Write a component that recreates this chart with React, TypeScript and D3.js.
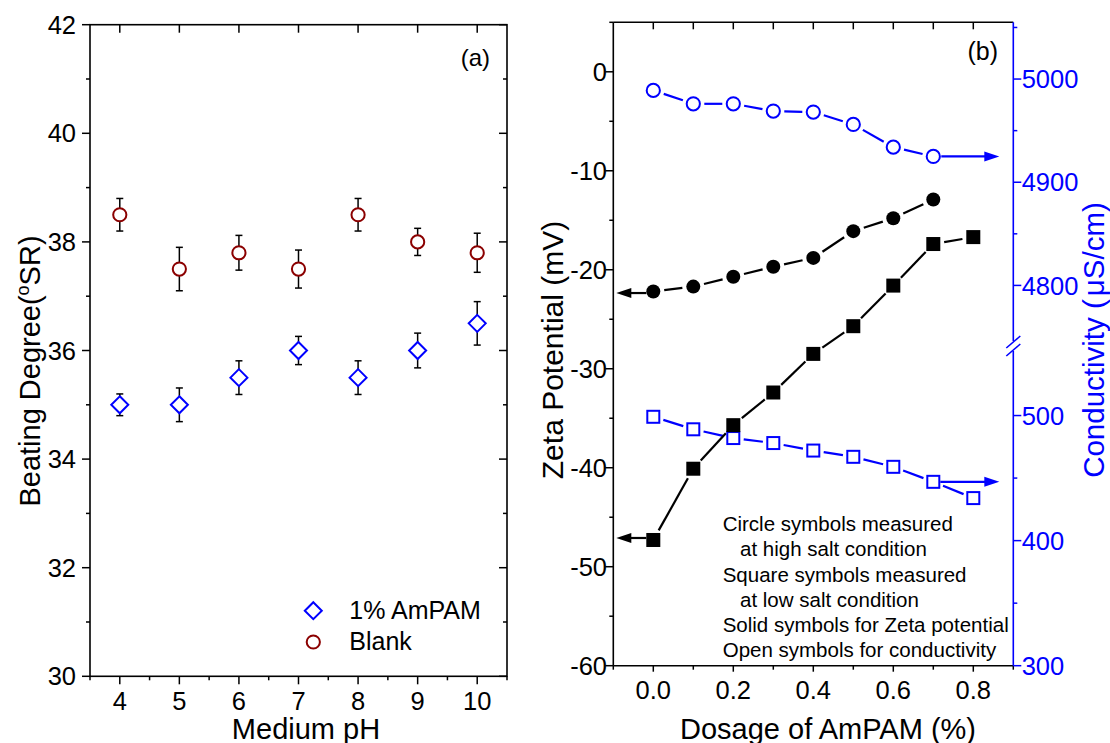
import React from 'react';
import * as d3 from 'd3';

// panel (a): beating degree vs medium pH
const PH = [4, 5, 6, 7, 8, 9, 10];
const BLANK = [38.5, 37.5, 37.8, 37.5, 38.5, 38.0, 37.8];
const BLANK_ERR = [0.3, 0.4, 0.32, 0.35, 0.3, 0.25, 0.36];
const AMPAM = [35.0, 35.0, 35.5, 36.0, 35.5, 36.0, 36.5];
const AMPAM_ERR = [0.2, 0.31, 0.31, 0.26, 0.31, 0.32, 0.4];
const PH_TICKS = [4, 5, 6, 7, 8, 9, 10];
const PH_MINOR = [3.5, 4.5, 5.5, 6.5, 7.5, 8.5, 9.5, 10.5];
const BD_TICKS = [30, 32, 34, 36, 38, 40, 42];
const BD_MINOR = [31, 33, 35, 37, 39, 41];

// panel (b): zeta potential and conductivity vs dosage
const DOSE_HIGH = [0, 0.1, 0.2, 0.3, 0.4, 0.5, 0.6, 0.7];
const DOSE_LOW = [0, 0.1, 0.2, 0.3, 0.4, 0.5, 0.6, 0.7, 0.8];
const ZETA_HIGH = [-22.2, -21.7, -20.7, -19.7, -18.8, -16.1, -14.8, -12.9];
const ZETA_LOW = [-47.3, -40.1, -35.7, -32.4, -28.5, -25.7, -21.6, -17.4, -16.7];
const COND_HIGH = [4989, 4976, 4976, 4969, 4968, 4956, 4934, 4925];
const COND_LOW = [499, 489, 482, 478, 472, 467, 459, 447, 434];
const DOSE_TICKS = [0, 0.2, 0.4, 0.6, 0.8];
const DOSE_ALL = [-0.1, 0, 0.1, 0.2, 0.3, 0.4, 0.5, 0.6, 0.7, 0.8, 0.9];
const ZETA_TICKS = [-60, -50, -40, -30, -20, -10, 0];
const ZETA_MINOR = [-55, -45, -35, -25, -15, -5, 5];
const COND_UP_TICKS = [4800, 4900, 5000];
const COND_UP_MINOR = [4850, 4950, 5050];
const COND_LO_TICKS = [300, 400, 500];
const COND_LO_MINOR = [350, 450];
const NOTES = [
  'Circle symbols measured',
  'at high salt condition',
  'Square symbols measured',
  'at low salt condition',
  'Solid symbols for Zeta potential',
  'Open symbols for conductivity',
];

const FONT = 'Liberation Sans, Arial, sans-serif';
const BLUE = '#0000ff';
const RED = '#8b0000';

const xL = d3.scaleLinear().domain([3.5, 10.5]).range([90, 507]);
const yL = d3.scaleLinear().domain([30, 42]).range([676.3, 24.7]);

const xR = d3.scaleLinear().domain([-0.1, 0.9]).range([613.3, 1013.3]);
const yZ = d3.scaleLinear().domain([-60, 5]).range([665.7, 22.3]);
const yCU = d3.scaleLinear().domain([4750, 5055]).range([337, 22.3]);
const yCL = d3.scaleLinear().domain([300, 550]).range([665.7, 353]);

const fmtDose = d3.format('.1f');

// line pieces between markers, leaving a small gap round each symbol
function gappedSegments(pts, gap) {
  const out = [];
  for (let i = 0; i < pts.length - 1; i++) {
    const [x0, y0] = pts[i];
    const [x1, y1] = pts[i + 1];
    const len = Math.hypot(x1 - x0, y1 - y0);
    if (len <= gap * 2) continue;
    const ux = (x1 - x0) / len, uy = (y1 - y0) / len;
    out.push([x0 + ux * gap, y0 + uy * gap, x1 - ux * gap, y1 - uy * gap]);
  }
  return out;
}

function Arrow({ x1, x2, y, color }) {
  // horizontal arrow, head at x2
  const dir = x2 > x1 ? 1 : -1;
  const headLen = 15;
  const hw = 5;
  return (
    <g>
      <line x1={x1} y1={y} x2={x2 - dir * headLen + dir * 2} y2={y} stroke={color} strokeWidth={2.2} />
      <path d={`M${x2},${y} L${x2 - dir * headLen},${y - hw} L${x2 - dir * headLen},${y + hw} Z`} fill={color} />
    </g>
  );
}

function PanelA() {
  const top = yL.range()[1], bottom = yL.range()[0];
  const left = xL.range()[0], right = xL.range()[1];
  return (
    <g fontFamily={FONT}>
      <rect x={left} y={top} width={right - left} height={bottom - top} fill="none" stroke="#000" strokeWidth={1.6} />
      {/* y ticks */}
      {BD_TICKS.map(t => (
        <g key={'yt' + t}>
          <line x1={left - 8} x2={left} y1={yL(t)} y2={yL(t)} stroke="#000" strokeWidth={1.5} />
          <line x1={right - 8} x2={right} y1={yL(t)} y2={yL(t)} stroke="#000" strokeWidth={1.5} />
          <text x={76} y={yL(t)} dy="0.36em" textAnchor="end" fontSize={25.5}>{t}</text>
        </g>
      ))}
      {BD_MINOR.map(t => (
        <g key={'ym' + t}>
          <line x1={left - 4} x2={left} y1={yL(t)} y2={yL(t)} stroke="#000" strokeWidth={1.5} />
          <line x1={right - 4} x2={right} y1={yL(t)} y2={yL(t)} stroke="#000" strokeWidth={1.5} />
        </g>
      ))}
      {/* x ticks */}
      {PH_TICKS.map(t => (
        <g key={'xt' + t}>
          <line x1={xL(t)} x2={xL(t)} y1={bottom} y2={bottom + 8} stroke="#000" strokeWidth={1.5} />
          <line x1={xL(t)} x2={xL(t)} y1={top} y2={top + 8} stroke="#000" strokeWidth={1.5} />
          <text x={xL(t)} y={709.7} textAnchor="middle" fontSize={25.5}>{t}</text>
        </g>
      ))}
      {PH_MINOR.map(t => (
        <line key={'xm' + t} x1={xL(t)} x2={xL(t)} y1={bottom} y2={bottom + 4} stroke="#000" strokeWidth={1.5} />
      ))}
      <text x={306} y={738.5} textAnchor="middle" fontSize={29}>Medium pH</text>
      <text transform="translate(40,371) rotate(-90)" textAnchor="middle" fontSize={29}>
        Beating Degree(<tspan dy={-11} fontSize={18}>o</tspan><tspan dy={11}>SR)</tspan>
      </text>
      <text x={490} y={66} textAnchor="end" fontSize={24}>(a)</text>

      {/* error bars */}
      {PH.map((p, i) => (
        <g key={'eb' + i} stroke="#000" strokeWidth={1.5}>
          <line x1={xL(p)} x2={xL(p)} y1={yL(BLANK[i] - BLANK_ERR[i])} y2={yL(BLANK[i] + BLANK_ERR[i])} />
          <line x1={xL(p) - 3.5} x2={xL(p) + 3.5} y1={yL(BLANK[i] - BLANK_ERR[i])} y2={yL(BLANK[i] - BLANK_ERR[i])} />
          <line x1={xL(p) - 3.5} x2={xL(p) + 3.5} y1={yL(BLANK[i] + BLANK_ERR[i])} y2={yL(BLANK[i] + BLANK_ERR[i])} />
          <line x1={xL(p)} x2={xL(p)} y1={yL(AMPAM[i] - AMPAM_ERR[i])} y2={yL(AMPAM[i] + AMPAM_ERR[i])} />
          <line x1={xL(p) - 3.5} x2={xL(p) + 3.5} y1={yL(AMPAM[i] - AMPAM_ERR[i])} y2={yL(AMPAM[i] - AMPAM_ERR[i])} />
          <line x1={xL(p) - 3.5} x2={xL(p) + 3.5} y1={yL(AMPAM[i] + AMPAM_ERR[i])} y2={yL(AMPAM[i] + AMPAM_ERR[i])} />
        </g>
      ))}
      {PH.map((p, i) => (
        <circle key={'bc' + i} cx={xL(p)} cy={yL(BLANK[i])} r={6.6} fill="#fff" stroke={RED} strokeWidth={2} />
      ))}
      {PH.map((p, i) => (
        <path key={'ad' + i} transform={`translate(${xL(p)},${yL(AMPAM[i])})`}
          d="M0,-8.5 L8.5,0 L0,8.5 L-8.5,0 Z" fill="#fff" stroke={BLUE} strokeWidth={2} />
      ))}

      {/* legend */}
      <path transform="translate(313.3,610.7)" d="M0,-8.5 L8.5,0 L0,8.5 L-8.5,0 Z" fill="#fff" stroke={BLUE} strokeWidth={2} />
      <text x={349.3} y={618.5} fontSize={25}>1% AmPAM</text>
      <circle cx={313.3} cy={642} r={6.6} fill="#fff" stroke={RED} strokeWidth={2} />
      <text x={349.3} y={650.3} fontSize={25}>Blank</text>
    </g>
  );
}

function PanelB() {
  const top = yZ.range()[1], bottom = yZ.range()[0];
  const left = xR.range()[0], right = xR.range()[1];
  const breakTop = yCU.range()[0] + 4;
  const breakBot = yCL.range()[1] - 2;

  const ptsHighZ = DOSE_HIGH.map((d, i) => [xR(d), yZ(ZETA_HIGH[i])]);
  const ptsLowZ = DOSE_LOW.map((d, i) => [xR(d), yZ(ZETA_LOW[i])]);
  const ptsHighC = DOSE_HIGH.map((d, i) => [xR(d), yCU(COND_HIGH[i])]);
  const ptsLowC = DOSE_LOW.map((d, i) => [xR(d), yCL(COND_LOW[i])]);

  const segs = (pts, gap, color, key) =>
    gappedSegments(pts, gap).map((s, i) => (
      <line key={key + i} x1={s[0]} y1={s[1]} x2={s[2]} y2={s[3]} stroke={color} strokeWidth={2.2} />
    ));

  return (
    <g fontFamily={FONT}>
      {/* frame: black top, left, bottom */}
      <line x1={left} x2={right} y1={top} y2={top} stroke="#000" strokeWidth={1.6} />
      <line x1={left} x2={right} y1={bottom} y2={bottom} stroke="#000" strokeWidth={1.6} />
      <line x1={left} x2={left} y1={top} y2={bottom} stroke="#000" strokeWidth={1.6} />
      {/* broken blue right axis */}
      <line x1={right} x2={right} y1={top} y2={breakTop} stroke={BLUE} strokeWidth={1.6} />
      <line x1={right} x2={right} y1={breakBot} y2={bottom} stroke={BLUE} strokeWidth={1.6} />
      <line x1={right - 7} y1={breakTop + 7} x2={right + 7} y2={breakTop - 5} stroke={BLUE} strokeWidth={1.6} />
      <line x1={right - 7} y1={breakBot + 5} x2={right + 7} y2={breakBot - 7} stroke={BLUE} strokeWidth={1.6} />

      {/* zeta axis */}
      {ZETA_TICKS.map(t => (
        <g key={'zt' + t}>
          <line x1={left - 8} x2={left} y1={yZ(t)} y2={yZ(t)} stroke="#000" strokeWidth={1.5} />
          <text x={607} y={yZ(t)} dy="0.36em" textAnchor="end" fontSize={25.5}>{t}</text>
        </g>
      ))}
      {ZETA_MINOR.map(t => (
        <line key={'zm' + t} x1={left - 4} x2={left} y1={yZ(t)} y2={yZ(t)} stroke="#000" strokeWidth={1.5} />
      ))}
      {/* dosage axis */}
      {DOSE_ALL.map((t, i) => (
        <g key={'dt' + i}>
          <line x1={xR(t)} x2={xR(t)} y1={bottom} y2={bottom + (i % 2 === 1 ? 6 : 4)} stroke="#000" strokeWidth={1.5} />
          {i > 0 && i < DOSE_ALL.length - 1 && (
            <line x1={xR(t)} x2={xR(t)} y1={top} y2={top + 7} stroke="#000" strokeWidth={1.5} />
          )}
        </g>
      ))}
      {DOSE_TICKS.map(t => (
        <text key={'dl' + t} x={xR(t)} y={699} textAnchor="middle" fontSize={25.5}>{fmtDose(t)}</text>
      ))}
      {/* conductivity axis */}
      {COND_UP_TICKS.map(t => (
        <g key={'cu' + t}>
          <line x1={right} x2={right + 8} y1={yCU(t)} y2={yCU(t)} stroke={BLUE} strokeWidth={1.5} />
          <text x={1021.7} y={yCU(t)} dy="0.36em" fontSize={25.5} fill={BLUE}>{t}</text>
        </g>
      ))}
      {COND_UP_MINOR.map(t => (
        <line key={'cum' + t} x1={right} x2={right + 4} y1={yCU(t)} y2={yCU(t)} stroke={BLUE} strokeWidth={1.5} />
      ))}
      {COND_LO_TICKS.map(t => (
        <g key={'cl' + t}>
          <line x1={right} x2={right + 8} y1={yCL(t)} y2={yCL(t)} stroke={BLUE} strokeWidth={1.5} />
          <text x={1021.7} y={yCL(t)} dy="0.36em" fontSize={25.5} fill={BLUE}>{t}</text>
        </g>
      ))}
      {COND_LO_MINOR.map(t => (
        <line key={'clm' + t} x1={right} x2={right + 4} y1={yCL(t)} y2={yCL(t)} stroke={BLUE} strokeWidth={1.5} />
      ))}

      <text x={828} y={738.5} textAnchor="middle" fontSize={29}>Dosage of AmPAM (%)</text>
      <text transform="translate(563,350) rotate(-90)" textAnchor="middle" fontSize={30}>Zeta Potential (mV)</text>
      <text transform="translate(1104,340) rotate(-90)" textAnchor="middle" fontSize={29.5} fill={BLUE}>
        Conductivity (<tspan dx={3}>μS/cm)</tspan>
      </text>
      <text x={998} y={60} textAnchor="end" fontSize={25}>(b)</text>

      {/* lines */}
      {segs(ptsHighC, 11, BLUE, 'shc')}
      {segs(ptsLowC, 10.5, BLUE, 'slc')}
      {segs(ptsHighZ, 11, '#000', 'shz')}
      {segs(ptsLowZ, 11, '#000', 'slz')}

      {/* arrows pointing to the owning axis */}
      <Arrow x1={ptsHighZ[0][0] - 7} x2={left + 3} y={ptsHighZ[0][1] + 1.5} color="#000" />
      <Arrow x1={ptsLowZ[0][0] - 7} x2={left + 3} y={ptsLowZ[0][1] - 2} color="#000" />
      <Arrow x1={ptsHighC[7][0] + 8} x2={right - 14} y={ptsHighC[7][1]} color={BLUE} />
      <Arrow x1={ptsLowC[7][0] + 7} x2={right - 14} y={ptsLowC[7][1]} color={BLUE} />

      {/* markers */}
      {ptsHighC.map((p, i) => (
        <circle key={'oc' + i} cx={p[0]} cy={p[1]} r={6.6} fill="#fff" stroke={BLUE} strokeWidth={2} />
      ))}
      {ptsLowC.map((p, i) => (
        <rect key={'os' + i} x={p[0] - 6} y={p[1] - 6} width={12} height={12} fill="#fff" stroke={BLUE} strokeWidth={2} />
      ))}
      {ptsHighZ.map((p, i) => (
        <circle key={'sc' + i} cx={p[0]} cy={p[1]} r={7} fill="#000" />
      ))}
      {ptsLowZ.map((p, i) => (
        <rect key={'ss' + i} x={p[0] - 7} y={p[1] - 7} width={14} height={14} fill="#000" />
      ))}

      {/* notes */}
      {NOTES.map((n, i) => (
        <text key={'n' + i} x={i % 2 === 1 && i < 4 ? 740 : 722.7} y={531.3 + i * 25.1} fontSize={20.5}>{n}</text>
      ))}
    </g>
  );
}

export default function App() {
  return (
    <svg width={1110} height={743} style={{ position: 'absolute', left: 0, top: 0, background: '#fff' }}>
      <rect width={1110} height={743} fill="#fff" />
      <PanelA />
      <PanelB />
    </svg>
  );
}
